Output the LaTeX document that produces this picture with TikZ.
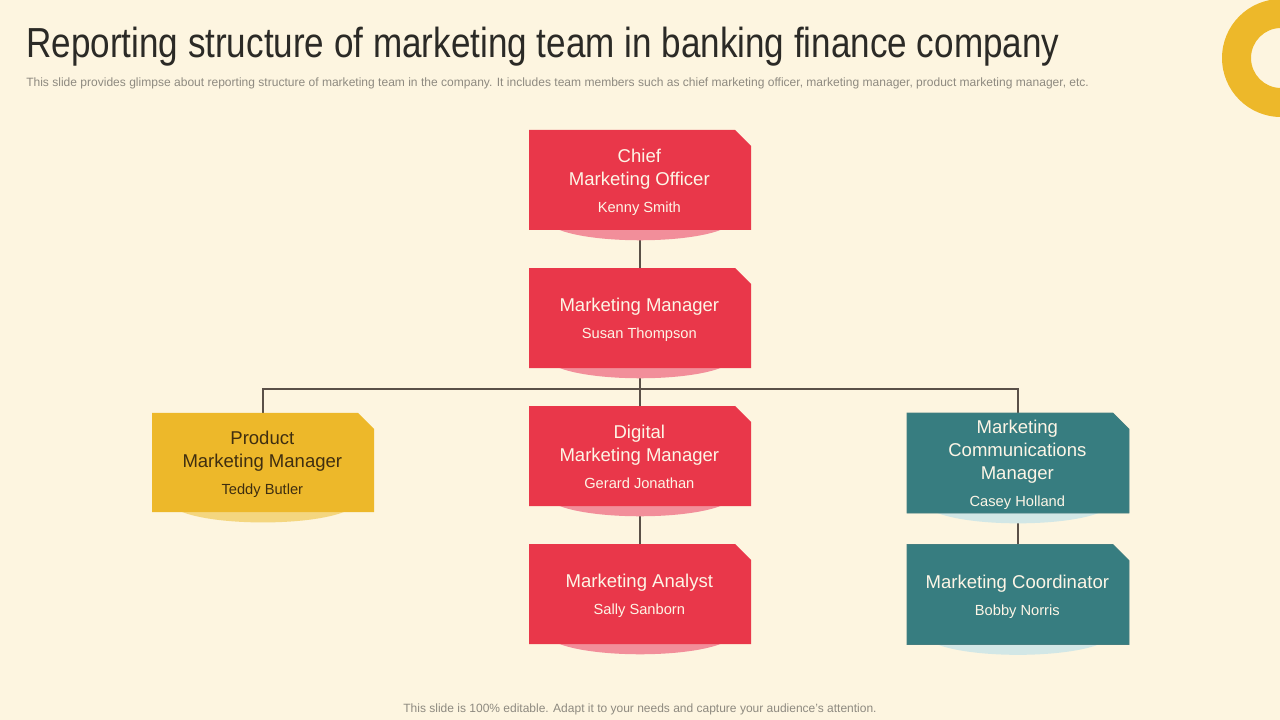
\documentclass[tikz,border=0pt]{standalone}
\usepackage{fontspec}
\setmainfont{Liberation Sans}
\newfontfamily\titlefont[FakeStretch=0.835]{Liberation Sans}
\usetikzlibrary{shapes.misc}
\definecolor{pagebg}{HTML}{FDF5E0}
\definecolor{cardred}{HTML}{E9374A}
\definecolor{shadered}{HTML}{F28E9A}
\definecolor{cardyellow}{HTML}{EDB82A}
\definecolor{shadeyellow}{HTML}{F4D67F}
\definecolor{cardteal}{HTML}{377D80}
\definecolor{shadeteal}{HTML}{D2E7E6}
\definecolor{linecol}{HTML}{5A5048}
\definecolor{lighttext}{HTML}{FDF5E6}
\definecolor{darktext}{HTML}{3F2E10}
\definecolor{graytext}{HTML}{8E8A80}
\definecolor{titletext}{HTML}{2B2A26}
\pgfdeclarelayer{pagelayer}
\pgfdeclarelayer{connlayer}
\pgfdeclarelayer{shadelayer}
\pgfsetlayers{pagelayer,connlayer,shadelayer,main}
\newcommand{\rolefont}{\fontsize{13.9pt}{17.25pt}\selectfont}
\newcommand{\namefont}{\fontsize{11pt}{17.25pt}\selectfont}
\newcommand{\cardtext}[1]{\hspace{-1pt}\raisebox{-5.5pt}[0pt][0pt]{\begin{tabular}[c]{@{}c@{}}#1\end{tabular}}}
\tikzset{
  x=0.75pt,y=-0.75pt,
  card/.style={shape=chamfered rectangle,chamfered rectangle corners=north east,
    chamfered rectangle sep=12pt,minimum width=166.5pt,inner sep=0pt,
    text=lighttext,font=\rolefont},
  redcard/.style={card,fill=cardred,minimum height=75pt},
  yellowcard/.style={card,fill=cardyellow,minimum height=74.5pt,text=darktext},
  tealcard/.style={card,fill=cardteal,draw=cardteal!80!gray,line width=0.5pt,minimum height=75pt},
  wire/.style={draw=linecol,line width=1.5pt},
  pagetext/.style={inner sep=0pt,text=graytext},
}
\newcommand{\cardshade}[2]{\begin{pgfonlayer}{shadelayer}
  \fill[#2] ([yshift=7.5pt]#1.south) ellipse [x radius=69pt,y radius=15pt];
\end{pgfonlayer}}
\begin{document}
\begin{tikzpicture}
\useasboundingbox (0,0) rectangle (1280,720);
\begin{pgfonlayer}{pagelayer}
\fill[pagebg] (0,0) rectangle (1280,720);
\end{pgfonlayer}
\begin{scope}
  \clip (0,0) rectangle (1280,720);
  \fill[cardyellow,even odd rule] (1281,58) circle [radius=44.25pt] (1281,58) circle [radius=22.5pt];
\end{scope}
\node[anchor=west,inner sep=0pt,text=titletext] (title) at (26,47) {\titlefont\fontsize{31.5pt}{36pt}\selectfont Reporting structure of marketing team in banking finance company};
\node[pagetext,anchor=west] (lead) at (26,83.5) {\fontsize{9.03pt}{10pt}\selectfont This slide provides glimpse about reporting structure of marketing team in the company. It includes team members such as chief marketing officer, marketing manager, product marketing manager, etc.};
\node[pagetext] (foot) at (640,709) {\fontsize{9pt}{11pt}\selectfont This slide is 100\% editable. Adapt it to your needs and capture your audience's attention.};

\node[redcard] (cmo) at (640,180) {\cardtext{Chief\\Marketing Officer\\[3pt]\namefont Kenny Smith}};
\node[redcard] (mm) at (640,318) {\cardtext{Marketing Manager\\[3pt]\namefont Susan Thompson}};
\node[redcard] (dmm) at (640,456) {\cardtext{Digital\\Marketing Manager\\[3pt]\namefont Gerard Jonathan}};
\node[redcard] (ma) at (640,594) {\cardtext{Marketing Analyst\\[3pt]\namefont Sally Sanborn}};
\node[yellowcard] (pmm) at (263,462.5) {\cardtext{Product\\Marketing Manager\\[3pt]\namefont Teddy Butler}};
\node[tealcard] (mcm) at (1018,463) {\cardtext{Marketing\\Communications\\Manager\\[3pt]\namefont Casey Holland}};
\node[tealcard] (mc) at (1018,594.5) {\cardtext{Marketing Coordinator\\[3pt]\namefont Bobby Norris}};

\cardshade{cmo}{shadered}
\cardshade{mm}{shadered}
\cardshade{dmm}{shadered}
\cardshade{ma}{shadered}
\cardshade{pmm}{shadeyellow}
\cardshade{mcm}{shadeteal}
\cardshade{mc}{shadeteal}

\begin{pgfonlayer}{connlayer}
  \coordinate (bus) at (640,389);
  \draw[wire] (cmo.south) -- (mm.north);
  \draw[wire] (mm.south) -- (dmm.north);
  \draw[wire] (dmm.south) -- (ma.north);
  \draw[wire] (mcm.south) -- (mc.north);
  \draw[wire] (pmm.north) |- (bus) -| (mcm.north);
\end{pgfonlayer}
\end{tikzpicture}
\end{document}
